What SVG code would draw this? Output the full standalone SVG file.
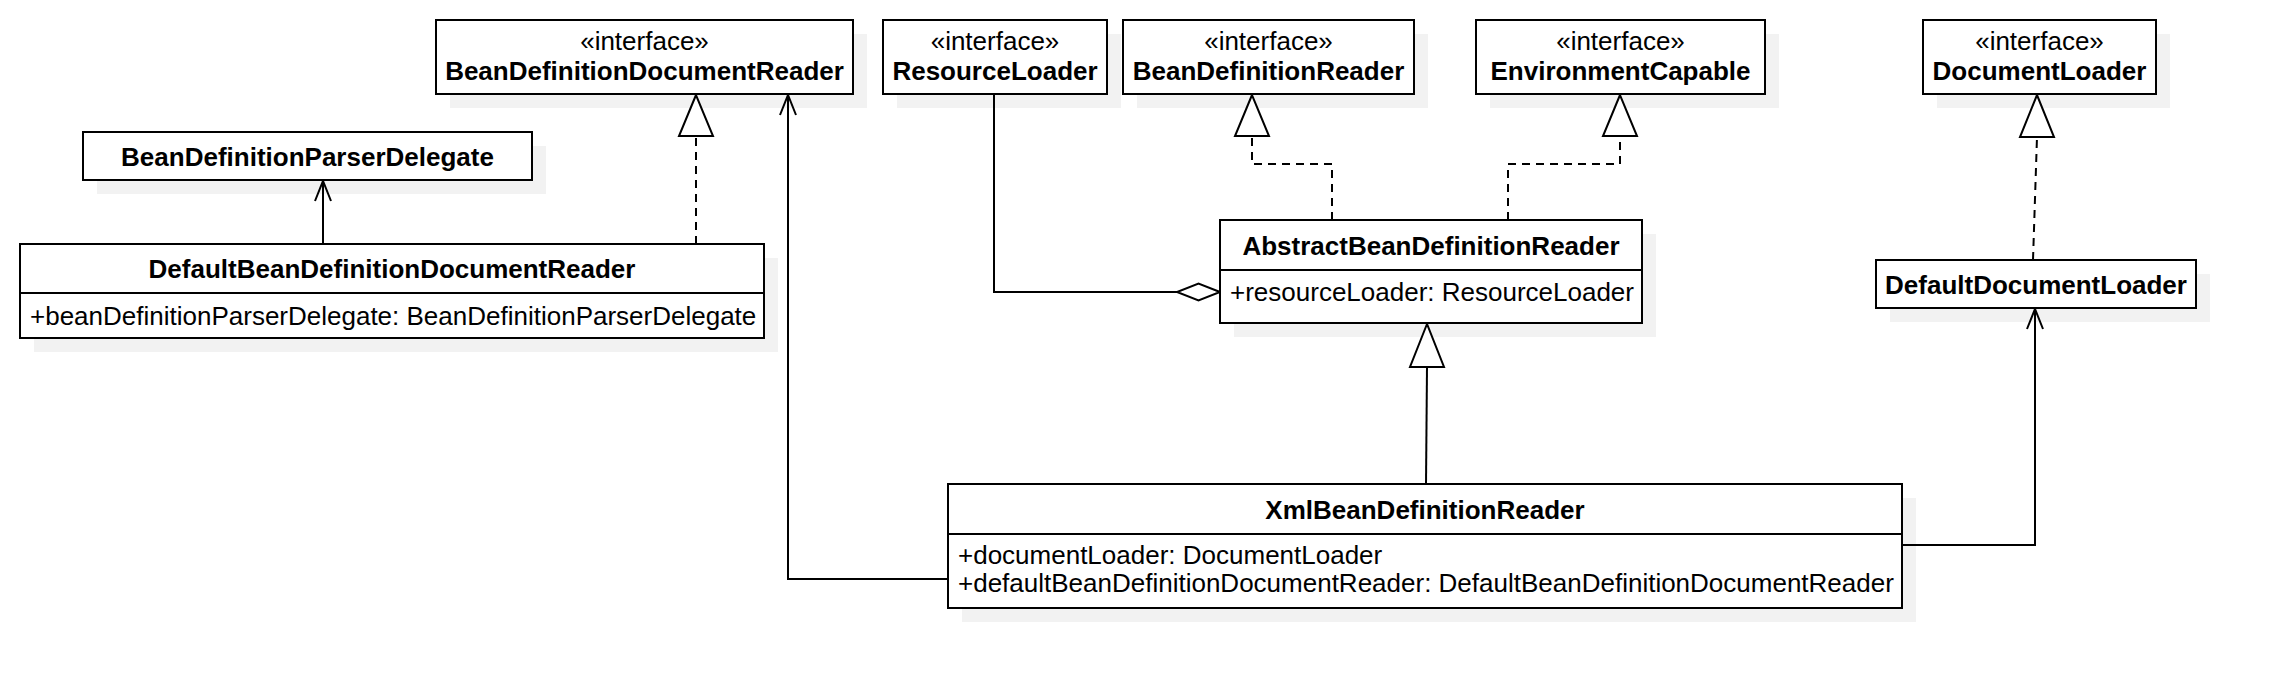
<svg xmlns="http://www.w3.org/2000/svg" width="2274" height="688" viewBox="0 0 2274 688">
<style>
  .shadow { fill: #f2f2f2; stroke: none; }
  .box { fill: #ffffff; stroke: #000000; stroke-width: 2; }
  .div { stroke: #000000; stroke-width: 2; }
  .st { font-family: "Liberation Sans", Arial, sans-serif; font-size: 26px; fill: #000; text-anchor: middle; }
  .nm { font-family: "Liberation Sans", Arial, sans-serif; font-size: 26px; font-weight: bold; fill: #000; text-anchor: middle; }
  .at { font-family: "Liberation Sans", Arial, sans-serif; font-size: 26px; fill: #000; }
  .ln { fill: none; stroke: #000; stroke-width: 2; }
  .dash { fill: none; stroke: #000; stroke-width: 2; stroke-dasharray: 8 6; }
  .tri { fill: #ffffff; stroke: #000; stroke-width: 2; stroke-linejoin: miter; }
  .open { fill: none; stroke: #000; stroke-width: 2; }
</style>
<rect width="2274" height="688" fill="#ffffff"/>

<g id="shadows">
  <rect class="shadow" x="450" y="34" width="417" height="74"/>
  <rect class="shadow" x="897" y="34" width="224" height="74"/>
  <rect class="shadow" x="1137" y="34" width="291" height="74"/>
  <rect class="shadow" x="1490" y="34" width="289" height="74"/>
  <rect class="shadow" x="1937" y="34" width="233" height="74"/>
  <rect class="shadow" x="97" y="146" width="449" height="48"/>
  <rect class="shadow" x="34" y="258" width="744" height="94"/>
  <rect class="shadow" x="1234" y="234" width="422" height="103"/>
  <rect class="shadow" x="1890" y="274" width="320" height="48"/>
  <rect class="shadow" x="962" y="498" width="954" height="124"/>
</g>

<g id="connectors">
  <!-- DBDR -> BDPD association -->
  <path class="ln" d="M323,244 L323,181"/>
  <path class="open" d="M315,201 L323,181 L331,201"/>
  <!-- DBDR realizes BDDR -->
  <path class="dash" d="M696,244 L696,136"/>
  <path class="tri" d="M696,95 L679,136 L713,136 Z"/>
  <!-- XBDR -> BDDR -->
  <path class="ln" d="M948,579 L788,579 L788,95"/>
  <path class="open" d="M780,115 L788,95 L796,115"/>
  <!-- ResourceLoader aggregation in ABDR -->
  <path class="ln" d="M994,94 L994,292 L1177,292"/>
  <path class="tri" d="M1220,292 L1198.5,283.5 L1177,292 L1198.5,300.5 Z"/>
  <!-- ABDR realizes BDR -->
  <path class="dash" d="M1332,220 L1332,164 L1252,164 L1252,136"/>
  <path class="tri" d="M1252,95 L1235,136 L1269,136 Z"/>
  <!-- ABDR realizes EC -->
  <path class="dash" d="M1508,220 L1508,164 L1620,164 L1620,136"/>
  <path class="tri" d="M1620,95 L1603,136 L1637,136 Z"/>
  <!-- XBDR extends ABDR -->
  <path class="ln" d="M1426,484 L1427,367"/>
  <path class="tri" d="M1427,324 L1410,367 L1444,367 Z"/>
  <!-- DDL realizes DL -->
  <path class="dash" d="M2033,260 L2037,137"/>
  <path class="tri" d="M2037,95 L2020,137 L2054,137 Z"/>
  <!-- XBDR -> DDL -->
  <path class="ln" d="M1902,545 L2035,545 L2035,309"/>
  <path class="open" d="M2027,329 L2035,309 L2043,329"/>
</g>

<g id="BeanDefinitionDocumentReader">
  <rect class="box" x="436" y="20" width="417" height="74"/>
  <text class="st" x="644.5" y="50">«interface»</text>
  <text class="nm" x="644.5" y="80">BeanDefinitionDocumentReader</text>
</g>
<g id="ResourceLoader">
  <rect class="box" x="883" y="20" width="224" height="74"/>
  <text class="st" x="995" y="50">«interface»</text>
  <text class="nm" x="995" y="80">ResourceLoader</text>
</g>
<g id="BeanDefinitionReader">
  <rect class="box" x="1123" y="20" width="291" height="74"/>
  <text class="st" x="1268.5" y="50">«interface»</text>
  <text class="nm" x="1268.5" y="80">BeanDefinitionReader</text>
</g>
<g id="EnvironmentCapable">
  <rect class="box" x="1476" y="20" width="289" height="74"/>
  <text class="st" x="1620.5" y="50">«interface»</text>
  <text class="nm" x="1620.5" y="80">EnvironmentCapable</text>
</g>
<g id="DocumentLoader">
  <rect class="box" x="1923" y="20" width="233" height="74"/>
  <text class="st" x="2039.5" y="50">«interface»</text>
  <text class="nm" x="2039.5" y="80">DocumentLoader</text>
</g>
<g id="BeanDefinitionParserDelegate">
  <rect class="box" x="83" y="132" width="449" height="48"/>
  <text class="nm" x="307.5" y="166">BeanDefinitionParserDelegate</text>
</g>
<g id="DefaultBeanDefinitionDocumentReader">
  <rect class="box" x="20" y="244" width="744" height="94"/>
  <line class="div" x1="20" y1="293" x2="764" y2="293"/>
  <text class="nm" x="392" y="278">DefaultBeanDefinitionDocumentReader</text>
  <text class="at" x="30" y="325">+beanDefinitionParserDelegate: BeanDefinitionParserDelegate</text>
</g>
<g id="AbstractBeanDefinitionReader">
  <rect class="box" x="1220" y="220" width="422" height="103"/>
  <line class="div" x1="1220" y1="270" x2="1642" y2="270"/>
  <text class="nm" x="1431" y="255">AbstractBeanDefinitionReader</text>
  <text class="at" x="1230" y="301">+resourceLoader: ResourceLoader</text>
</g>
<g id="DefaultDocumentLoader">
  <rect class="box" x="1876" y="260" width="320" height="48"/>
  <text class="nm" x="2036" y="294">DefaultDocumentLoader</text>
</g>
<g id="XmlBeanDefinitionReader">
  <rect class="box" x="948" y="484" width="954" height="124"/>
  <line class="div" x1="948" y1="534" x2="1902" y2="534"/>
  <text class="nm" x="1425" y="519">XmlBeanDefinitionReader</text>
  <text class="at" x="958" y="564">+documentLoader: DocumentLoader</text>
  <text class="at" x="958" y="592">+defaultBeanDefinitionDocumentReader: DefaultBeanDefinitionDocumentReader</text>
</g>
</svg>
